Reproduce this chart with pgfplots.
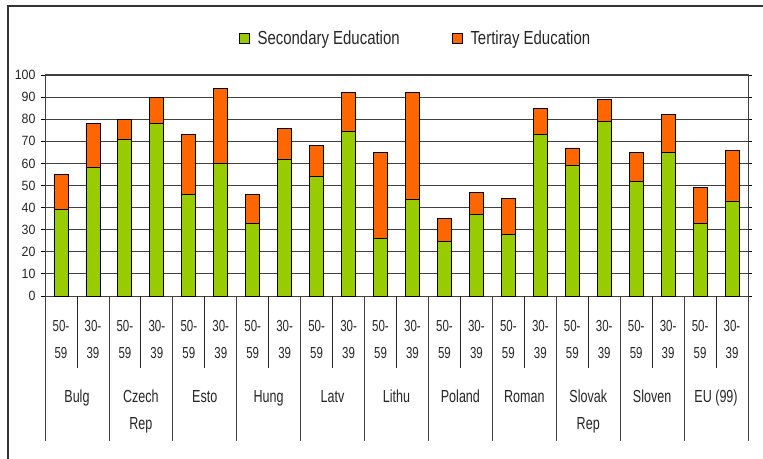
\documentclass[border=0pt]{standalone}
\usepackage{fontspec}
\setmainfont{Liberation Sans}
\newfontfamily\narrowfont{Liberation Sans}[FakeStretch=0.72]
\newfontfamily\legfont{Liberation Sans}[FakeStretch=0.79]
\newfontfamily\tickfont{Liberation Sans}[FakeStretch=0.92]
\usepackage{pgfplots}
\pgfplotsset{compat=1.18}
\definecolor{secgreen}{HTML}{99CC00}
\definecolor{terorange}{HTML}{FF6600}
\definecolor{gridgray}{HTML}{404040}
\begin{document}
\begin{tikzpicture}
\useasboundingbox (0,0) rectangle (763bp,459bp);
\draw[line width=1.3bp, black!80] (8bp,0) -- (8bp,453bp) -- (763bp,453bp);
\begin{axis}[
  at={(45bp,163bp)}, anchor=south west,
  scale only axis, width=703bp, height=221bp,
  ybar stacked, bar width=14bp,
  xmin=-0.5, xmax=21.5, ymin=0, ymax=100,
  ytick={0,10,...,100},
  ymajorgrids, grid style={gridgray, line width=0.8bp},
  axis line style={gridgray, line width=1bp},
  tick align=outside, major tick length=4bp,
  xtick style={draw=none}, ytick style={black, line width=0.8bp},
  /pgf/number format/assume math mode=true,
  yticklabel style={font=\tickfont\fontsize{13.5}{14}\selectfont, text=black!85, xshift=-2bp},
  xtick={0,...,21},
  xticklabels={{50-\\59},{30-\\39},{50-\\59},{30-\\39},{50-\\59},{30-\\39},{50-\\59},{30-\\39},{50-\\59},{30-\\39},{50-\\59},{30-\\39},{50-\\59},{30-\\39},{50-\\59},{30-\\39},{50-\\59},{30-\\39},{50-\\59},{30-\\39},{50-\\59},{30-\\39}},
  xticklabel style={font=\narrowfont\fontsize{16}{27}\selectfont, text=black!85, align=center, anchor=north, inner sep=0pt, yshift=-20bp},
  clip=false,
  legend style={at={(0.527,1.167)}, anchor=center, draw=none, fill=none,
    legend columns=2, font=\legfont\fontsize{19}{20}\selectfont, text=black!85,
    /tikz/every even column/.append style={column sep=50bp}},
]
\addplot[fill=secgreen, draw=black, line width=0.8bp,
  legend image code/.code={\draw[fill=secgreen, draw=black, line width=0.8bp] (0bp,-5bp) rectangle (10bp,5bp); \path (16bp,0bp);}]
  coordinates {(0,39) (1,58) (2,71) (3,78) (4,46) (5,60) (6,33) (7,62) (8,54) (9,74.5) (10,26) (11,43.5) (12,24.5) (13,37) (14,28) (15,73) (16,59) (17,79) (18,52) (19,65) (20,33) (21,43)};
\addlegendentry{Secondary Education}
\addplot[fill=terorange, draw=black, line width=0.8bp,
  legend image code/.code={\draw[fill=terorange, draw=black, line width=0.8bp] (0bp,-5bp) rectangle (10bp,5bp); \path (16bp,0bp);}]
  coordinates {(0,16) (1,20) (2,9) (3,12) (4,27.3) (5,34) (6,13) (7,14) (8,14) (9,17.5) (10,39) (11,48.5) (12,10.5) (13,10) (14,16) (15,12) (16,8) (17,10) (18,13) (19,17) (20,16) (21,23)};
\addlegendentry{Tertiray Education}
\pgfplotsinvokeforeach{0.5,2.5,...,20.5}{\draw[black!85, line width=0.8bp] (axis cs:#1,0) -- ++(0bp,-72bp);}
\pgfplotsinvokeforeach{-0.5,1.5,...,21.5}{\draw[black!75, line width=0.8bp] (axis cs:#1,0) -- ++(0bp,-145bp);}
\tikzset{country/.style={anchor=north, inner sep=0pt, yshift=-94bp, align=center, text=black!85, font=\narrowfont\fontsize{17.5}{27}\selectfont}}
\node[country] at (axis cs:0.5,0) {Bulg};
\node[country] at (axis cs:2.5,0) {Czech\\Rep};
\node[country] at (axis cs:4.5,0) {Esto};
\node[country] at (axis cs:6.5,0) {Hung};
\node[country] at (axis cs:8.5,0) {Latv};
\node[country] at (axis cs:10.5,0) {Lithu};
\node[country] at (axis cs:12.5,0) {Poland};
\node[country] at (axis cs:14.5,0) {Roman};
\node[country] at (axis cs:16.5,0) {Slovak\\Rep};
\node[country] at (axis cs:18.5,0) {Sloven};
\node[country] at (axis cs:20.5,0) {EU (99)};
\end{axis}
\end{tikzpicture}
\end{document}
